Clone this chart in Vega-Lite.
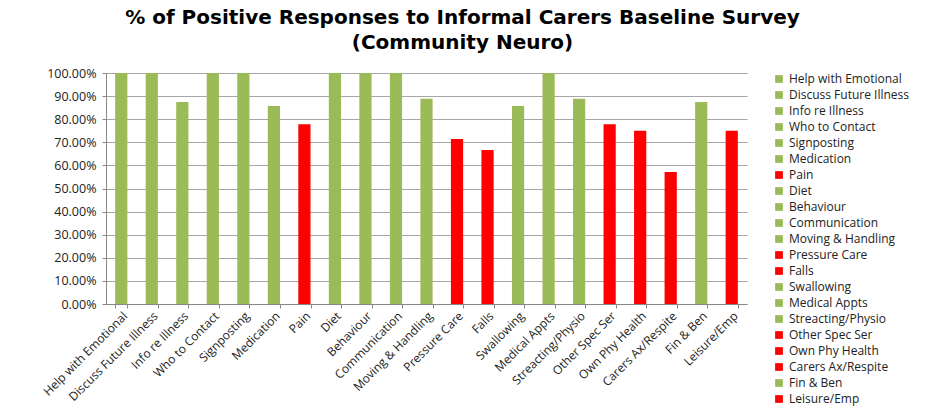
{
  "$schema": "https://vega.github.io/schema/vega-lite/v6.json",
  "width": 641,
  "height": 231,
  "autosize": {"type": "none"},
  "padding": {"left": 106, "top": 73, "right": 205, "bottom": 108},
  "background": "white",
  "title": {
    "text": ["% of Positive Responses to Informal Carers Baseline Survey", "(Community Neuro)"],
    "font": "DejaVu Sans",
    "fontSize": 20,
    "fontWeight": "bold",
    "color": "#000000",
    "anchor": "middle",
    "frame": "group",
    "dx": 36,
    "offset": 14,
    "lineHeight": 25
  },
  "data": {
    "values": [
      {"item": "Help with Emotional", "pct": 1.0, "status": "good"},
      {"item": "Discuss Future Illness", "pct": 1.0, "status": "good"},
      {"item": "Info re Illness", "pct": 0.875, "status": "good"},
      {"item": "Who to Contact", "pct": 1.0, "status": "good"},
      {"item": "Signposting", "pct": 1.0, "status": "good"},
      {"item": "Medication", "pct": 0.857, "status": "good"},
      {"item": "Pain", "pct": 0.778, "status": "bad"},
      {"item": "Diet", "pct": 1.0, "status": "good"},
      {"item": "Behaviour", "pct": 1.0, "status": "good"},
      {"item": "Communication", "pct": 1.0, "status": "good"},
      {"item": "Moving & Handling", "pct": 0.889, "status": "good"},
      {"item": "Pressure Care", "pct": 0.714, "status": "bad"},
      {"item": "Falls", "pct": 0.667, "status": "bad"},
      {"item": "Swallowing", "pct": 0.857, "status": "good"},
      {"item": "Medical Appts", "pct": 1.0, "status": "good"},
      {"item": "Streacting/Physio", "pct": 0.889, "status": "good"},
      {"item": "Other Spec Ser", "pct": 0.778, "status": "bad"},
      {"item": "Own Phy Health", "pct": 0.75, "status": "bad"},
      {"item": "Carers Ax/Respite", "pct": 0.571, "status": "bad"},
      {"item": "Fin & Ben", "pct": 0.875, "status": "good"},
      {"item": "Leisure/Emp", "pct": 0.75, "status": "bad"}
    ]
  },
  "mark": {"type": "bar"},
  "encoding": {
    "x": {
      "field": "item",
      "type": "nominal",
      "sort": null,
      "title": null,
      "scale": {"paddingInner": 0.6, "paddingOuter": 0.3},
      "axis": {
        "labelAngle": -45,
        "labelAlign": "right",
        "labelBaseline": "top",
        "labelFont": "Open Sans",
        "labelFontSize": 12,
        "labelColor": "#222222",
        "labelPadding": 2,
        "labelLimit": 200,
        "tickBand": "extent",
        "tickColor": "#888888",
        "tickSize": 4,
        "domainColor": "#888888",
        "grid": false
      }
    },
    "y": {
      "field": "pct",
      "type": "quantitative",
      "title": null,
      "scale": {"domain": [0, 1], "nice": false},
      "axis": {
        "format": ".2%",
        "values": [0, 0.1, 0.2, 0.3, 0.4, 0.5, 0.6, 0.7, 0.8, 0.9, 1.0],
        "labelFont": "Open Sans",
        "labelFontSize": 12.5,
        "labelColor": "#222222",
        "labelPadding": 6,
        "tickColor": "#888888",
        "tickSize": 4,
        "domainColor": "#888888",
        "gridColor": "#A6A6A6",
        "gridWidth": 1.2
      }
    },
    "color": {
      "field": "item",
      "type": "nominal",
      "sort": null,
      "title": null,
      "scale": {
        "domain": ["Help with Emotional", "Discuss Future Illness", "Info re Illness", "Who to Contact", "Signposting", "Medication", "Pain", "Diet", "Behaviour", "Communication", "Moving & Handling", "Pressure Care", "Falls", "Swallowing", "Medical Appts", "Streacting/Physio", "Other Spec Ser", "Own Phy Health", "Carers Ax/Respite", "Fin & Ben", "Leisure/Emp"],
        "range": ["#9BBB59", "#9BBB59", "#9BBB59", "#9BBB59", "#9BBB59", "#9BBB59", "#FF0000", "#9BBB59", "#9BBB59", "#9BBB59", "#9BBB59", "#FF0000", "#FF0000", "#9BBB59", "#9BBB59", "#9BBB59", "#FF0000", "#FF0000", "#FF0000", "#9BBB59", "#FF0000"]
      },
      "legend": {
        "orient": "none",
        "legendX": 667,
        "legendY": 0,
        "symbolType": "square",
        "symbolSize": 60,
        "symbolStrokeWidth": 0,
        "labelFont": "Open Sans",
        "labelFontSize": 12,
        "labelColor": "#222222",
        "rowPadding": 4,
        "labelLimit": 200
      }
    }
  },
  "config": {
    "view": {"stroke": null}
  }
}
